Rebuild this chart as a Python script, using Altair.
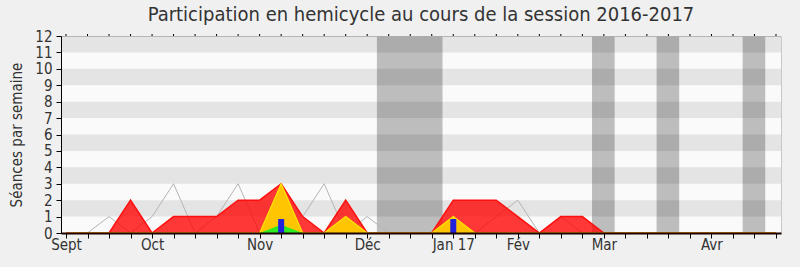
import altair as alt
import pandas as pd

weeks = list(range(34))
red = [0, 0, 0, 2, 0, 1, 1, 1, 2, 2, 3, 1, 0, 2, 0, 0, 0, 0, 2, 2, 2, 1, 0, 1, 1, 0,
       0, 0, 0, 0, 0, 0, 0, 0]
yellow = [0, 0, 0, 0, 0, 0, 0, 0, 0, 0, 3, 0, 0, 1, 0, 0, 0, 0, 1, 0, 0, 0, 0, 0, 0, 0,
          0, 0, 0, 0, 0, 0, 0, 0]
green = [0, 0, 0, 0, 0, 0, 0, 0, 0, 0, 0.5, 0, 0, 0, 0, 0, 0, 0, 0, 0, 0, 0, 0, 0, 0, 0,
         0, 0, 0, 0, 0, 0, 0, 0]
blue = [0, 0, 0, 0, 0, 0, 0, 0, 0, 0, 0.85, 0, 0, 0, 0, 0, 0, 0, 0.85, 0, 0, 0, 0, 0, 0, 0,
        0, 0, 0, 0, 0, 0, 0, 0]
grey = [0, 0, 1, 0, 1, 3, 0, 1, 3, 0, 3, 1, 3, 0, 1, 0, 0, 0, 1, 0, 1, 2, 0, 1, 0, 0,
        0, 0, 0, 0, 0, 0, 0, 0]
month_pos = [0, 4, 9, 14, 18, 21, 25, 30]
month_txt = ["Sept", "Oct", "Nov", "Déc", "Jan 17", "Fév", "Mar", "Avr"]
vac_start = [14.45, 24.45, 27.45, 31.45]
vac_end = [17.5, 25.5, 28.5, 32.5]
stripe_lo = [1, 3, 5, 7, 9, 11]
stripe_hi = [2, 4, 6, 8, 10, 12]

FONT = "DejaVu Sans Condensed, DejaVu Sans"

df = pd.DataFrame({"week": weeks, "red": red, "yellow": yellow, "green": green,
                   "blue": blue, "grey": grey})
bars = df[df["blue"] > 0]
vac = pd.DataFrame({"s": vac_start, "e": vac_end})
stripes = pd.DataFrame({"lo": stripe_lo, "hi": stripe_hi})

label_expr = "{" + ",".join(f"'{p}':'{t}'" for p, t in zip(month_pos, month_txt)) + "}"
label_expr = f"({label_expr})[''+datum.value] || ''"

xs = alt.Scale(domain=[0, 33], nice=False, zero=False)
ys = alt.Scale(domain=[0, 12], nice=False)

xaxis = alt.Axis(values=weeks, labelExpr=label_expr, title=None, grid=False,
                 tickSize=5, tickColor="#000", domainColor="#1a0000", domainWidth=2,
                 labelColor="#333",
                 labelFontSize=15, labelFont=FONT, labelPadding=-1, labelOverlap=False,
                 labelFlush=False, zindex=1)
yaxis = alt.Axis(values=list(range(13)), title="Séances par semaine", grid=False,
                 tickSize=5, tickColor="#000", domainColor="#000", labelColor="#333",
                 labelFontSize=15, labelFont=FONT, labelPadding=4, zindex=1,
                 titleFont=FONT, titleFontSize=15, titleFontWeight="normal",
                 titleColor="#333", titlePadding=10)


def X(f):
    return alt.X(f, type="quantitative", scale=xs, axis=xaxis)


def Y(f):
    return alt.Y(f, type="quantitative", scale=ys, axis=yaxis)


vac_layer = alt.Chart(vac).mark_rect(color="#bdbdbd").encode(
    x=X("s"), x2="e", y=alt.value(0), y2=alt.value(197))
stripe_layer = alt.Chart(stripes).mark_rect(color="#000", opacity=0.085).encode(
    x=alt.value(0), x2=alt.value(720), y=Y("lo"), y2="hi")
grey_layer = alt.Chart(df).mark_line(color="#b4b4b4", strokeWidth=1).encode(
    x=X("week"), y=Y("grey"))
red_area = alt.Chart(df).mark_area(color="#ff0000", opacity=0.78).encode(
    x=X("week"), y=Y("red"))
red_line = alt.Chart(df).mark_line(color="#ff1010", strokeWidth=1.5).encode(
    x=X("week"), y=Y("red"))
yellow_area = alt.Chart(df).mark_area(color="#ffcc00", opacity=0.95).encode(
    x=X("week"), y=Y("yellow"))
yellow_line = alt.Chart(df).mark_line(color="#ffe600", strokeWidth=1.2).encode(
    x=X("week"), y=Y("yellow"))
green_area = alt.Chart(df).mark_area(color="#22ee22", opacity=0.95).encode(
    x=X("week"), y=Y("green"))
blue_bar = alt.Chart(bars).mark_bar(color="#2222dd", size=6).encode(
    x=X("week"), y=Y("blue"))
top_ticks = alt.Chart(df).mark_rule(color="#000", strokeWidth=1).encode(
    x=X("week"), y=alt.value(-2), y2=alt.value(0))

chart = alt.layer(
    vac_layer, stripe_layer, grey_layer, red_area, red_line, yellow_area,
    yellow_line, green_area, blue_bar, top_ticks
).properties(
    width=720, height=197,
    title=alt.TitleParams("Participation en hemicycle au cours de la session 2016-2017",
                          font=FONT, fontSize=20, fontWeight="normal", color="#333",
                          offset=4, anchor="middle"),
    autosize=alt.AutoSizeParams(type="none"),
    padding={"left": 61, "top": 36, "right": 19, "bottom": 34},
    background="#f0f0f0",
).configure_view(fill="#fafafa", stroke="#c8c8c8", strokeWidth=1)

chart.save("out.html", embed_options={"renderer": "svg", "actions": False})
